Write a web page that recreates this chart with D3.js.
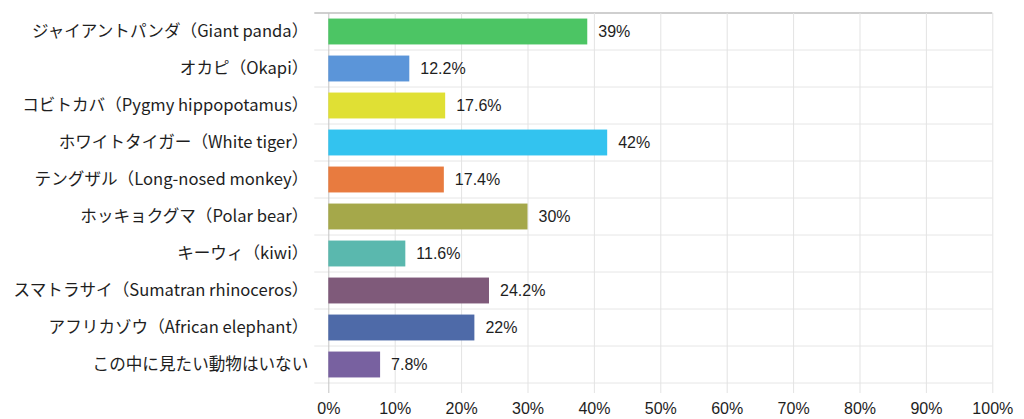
<!DOCTYPE html>
<html>
<head>
<meta charset="utf-8">
<script src="https://cdn.jsdelivr.net/npm/d3@7"></script>
<style>
  body { margin: 0; background: #fff; }
  svg { display: block; }
  .cat { font-family: "Noto Sans CJK JP", "Noto Sans", sans-serif; font-size: 16.6px; fill: #1e1e1e; }
  .val, .tick text { font-family: "Liberation Sans", Arial, sans-serif; font-size: 16px; fill: #1e1e1e; }
</style>
</head>
<body>
<svg id="chart" width="1024" height="419"></svg>
<script>
// categories (top to bottom) and their shares in percent
const categories = [
  'ジャイアントパンダ（Giant panda）',
  'オカピ（Okapi）',
  'コビトカバ（Pygmy hippopotamus）',
  'ホワイトタイガー（White tiger）',
  'テングザル（Long-nosed monkey）',
  'ホッキョクグマ（Polar bear）',
  'キーウィ（kiwi）',
  'スマトラサイ（Sumatran rhinoceros）',
  'アフリカゾウ（African elephant）',
  'この中に見たい動物はいない'
];
const values = [39, 12.2, 17.6, 42, 17.4, 30, 11.6, 24.2, 22, 7.8];
const valueLabels = ['39%', '12.2%', '17.6%', '42%', '17.4%', '30%', '11.6%', '24.2%', '22%', '7.8%'];
const tickValues = [0, 10, 20, 30, 40, 50, 60, 70, 80, 90, 100];
const barColors = ['#4cc564', '#5b95d9', '#e0e034', '#33c3ef', '#e87b3f',
  '#a5a84a', '#5ab8ae', '#7f5a7a', '#4e6aa8', '#7861a0'];

const svg = d3.select('#chart');
const margin = { top: 13, right: 31.7, bottom: 36, left: 328.3 };
const width = 1024 - margin.left - margin.right;
const height = 419 - margin.top - margin.bottom;

const g = svg.append('g').attr('transform', `translate(${margin.left},${margin.top})`);

const x = d3.scaleLinear().domain([0, 100]).range([0, width]);
const y = d3.scaleBand().domain(categories).range([0, height])
  .paddingInner(0.3).paddingOuter(0.15);
const half = (y.step() - y.bandwidth()) / 2;

// horizontal row separators
const rows = categories.map(c => y(c) - half).concat([height]);
g.selectAll('line.row').data(rows).enter().append('line')
  .attr('class', 'row')
  .attr('x1', -14).attr('x2', width)
  .attr('y1', d => d).attr('y2', d => d)
  .attr('stroke', (d, i) => i === 0 ? '#cfcfcf' : '#e6e6e6')
  .attr('stroke-width', (d, i) => i === 0 ? 2 : 1);

// vertical gridlines + x axis
const xAxis = d3.axisBottom(x).tickValues(tickValues)
  .tickFormat(d => d + '%').tickSize(height + 10).tickPadding(8);
const ax = g.append('g').call(xAxis);
ax.select('.domain').remove();
ax.selectAll('.tick line').attr('stroke', (d) => d === 0 ? '#c4c4c4' : '#e3e3e3');
ax.selectAll('.tick text').attr('dy', '0.8em');

// bars
g.selectAll('rect.bar').data(values).enter().append('rect')
  .attr('class', 'bar')
  .attr('x', x(0))
  .attr('y', (d, i) => y(categories[i]))
  .attr('width', d => x(d) - x(0))
  .attr('height', y.bandwidth())
  .attr('fill', (d, i) => barColors[i]);

// value labels
g.selectAll('text.val').data(values).enter().append('text')
  .attr('class', 'val')
  .attr('x', d => x(d) + 11)
  .attr('y', (d, i) => y(categories[i]) + y.bandwidth() / 2)
  .attr('dy', '0.36em')
  .text((d, i) => valueLabels[i]);

// category labels
g.selectAll('text.cat').data(categories).enter().append('text')
  .attr('class', 'cat')
  .attr('x', -20)
  .attr('y', d => y(d) + y.bandwidth() / 2)
  .attr('dy', '0.36em')
  .attr('text-anchor', 'end')
  .text(d => d);
</script>
</body>
</html>
